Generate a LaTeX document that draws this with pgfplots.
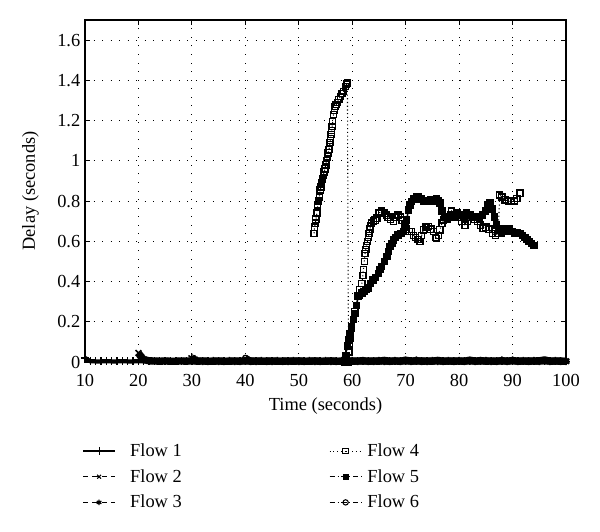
\documentclass[border=0pt]{standalone}
\usepackage{pgfplots}
\pgfplotsset{compat=1.18}
\usepackage{fontspec}
\setmainfont{Liberation Serif}
\begin{document}
\begin{tikzpicture}[font=\fontsize{13.8}{16.5}\selectfont]
\path[use as bounding box] (-63.75pt,-127.5pt) rectangle (386.25pt,271.5pt);
\begin{axis}[
  at={(0,0)}, anchor=south west,
  scale only axis, width=360.75pt, height=256.5pt,
  xmin=10, xmax=100, ymin=0, ymax=1.7,
  xtick={10,20,30,40,50,60,70,80,90,100},
  ytick={0,0.2,0.4,0.6,0.8,1,1.2,1.4,1.6},
  /pgf/number format/assume math mode=true,
  axis line style={black, line width=0.9pt},
  tick align=inside, major tick length=4pt,
  tick style={black, line width=0.7pt},
  grid=major,
  grid style={black, line width=0.6pt, dash pattern=on 0.6pt off 5.8pt},
  xticklabel style={yshift=-6pt},
  xlabel={Time (seconds)}, ylabel={Delay (seconds)},
  xlabel style={yshift=-1pt},
  ylabel shift=7pt,
  clip=false,
  legend columns=3, transpose legend,
  legend image code/.code={\draw[mark repeat=2,mark phase=2] plot coordinates {(0cm,0cm) (0.42cm,0cm) (0.84cm,0cm)};},
  legend style={draw=none, fill=none, at={(axis description cs:0,0)}, anchor=north west, xshift=-5pt, yshift=-57pt,
     row sep=4.2pt,
     /tikz/column 1/.append style={column sep=9pt},
     /tikz/column 2/.append style={column sep=108.5pt},
     /tikz/column 3/.append style={column sep=2pt}},
  legend cell align=left,
]
% Flow 1
\addplot[forget plot, black, line width=3.2pt, mark=+, mark size=3pt, mark options={line width=1pt}] coordinates {
(10,0.02)(11,0.004)(12,0.003)(13,0.003)(14,0.004)(15,0.003)(16,0.003)(17,0.004)(18,0.003)(19,0.003)
(20,0.004)(21,0.004)(22,0.003)(23,0.003)(24,0.004)(25,0.003)(26,0.003)(27,0.004)(28,0.003)(29,0.003)
(30,0.005)(31,0.004)(32,0.003)(33,0.003)(34,0.004)(35,0.003)(36,0.003)(37,0.004)(38,0.003)(39,0.003)
(40,0.005)(41,0.004)(42,0.003)(43,0.003)(44,0.004)(45,0.003)(46,0.003)(47,0.004)(48,0.003)(49,0.003)
(50,0.004)(51,0.003)(52,0.003)(53,0.004)(54,0.003)(55,0.003)(56,0.004)(57,0.003)(58,0.003)(59,0.004)
(60,0.004)(61,0.003)(62,0.005)(63,0.003)(64,0.004)(65,0.003)(66,0.006)(67,0.003)(68,0.004)(69,0.003)
(70,0.006)(71,0.003)(72,0.005)(73,0.003)(74,0.004)(75,0.003)(76,0.006)(77,0.003)(78,0.004)(79,0.003)
(80,0.004)(81,0.003)(82,0.007)(83,0.003)(84,0.006)(85,0.003)(86,0.004)(87,0.003)(88,0.005)(89,0.003)
(90,0.006)(91,0.003)(92,0.004)(93,0.003)(94,0.004)(95,0.003)(96,0.007)(97,0.003)(98,0.004)(99,0.003)(100,0.003)};
% Flow 2
\addplot[forget plot, black, line width=5.5pt, mark=x, mark size=3pt, mark options={line width=1.1pt}] coordinates {
(20,0.045)(20.5,0.025)(21,0.012)(22,0.006)(23,0.005)(24,0.004)(25,0.005)(26,0.004)(27,0.004)(28,0.005)(29,0.004)
(30,0.006)(31,0.004)(32,0.005)(33,0.004)(34,0.004)(35,0.005)(36,0.004)(37,0.004)(38,0.005)(39,0.004)
(40,0.006)(41,0.004)(42,0.005)(43,0.004)(44,0.004)(45,0.005)(46,0.004)(47,0.004)(48,0.005)(49,0.004)
(50,0.005)(51,0.004)(52,0.004)(53,0.005)(54,0.004)(55,0.004)(56,0.005)(57,0.004)(58,0.004)(59,0.005)
(60,0.004)(61,0.005)(62,0.006)(63,0.004)(64,0.005)(65,0.004)(66,0.008)(67,0.004)(68,0.005)(69,0.004)
(70,0.009)(71,0.004)(72,0.006)(73,0.004)(74,0.005)(75,0.004)(76,0.008)(77,0.004)(78,0.005)(79,0.004)
(80,0.005)(81,0.004)(82,0.009)(83,0.004)(84,0.007)(85,0.004)(86,0.005)(87,0.004)(88,0.006)(89,0.004)
(90,0.007)(91,0.004)(92,0.005)(93,0.004)(94,0.005)(95,0.006)(96,0.010)(97,0.004)(98,0.005)(99,0.004)(100,0.004)};
% Flow 3
\addplot[forget plot, black, line width=5pt, mark=asterisk, mark size=3pt, mark options={line width=1.1pt}] coordinates {
(30,0.022)(30.5,0.014)(31,0.006)(32,0.004)(33,0.004)(34,0.005)(35,0.004)(36,0.004)(37,0.005)(38,0.004)(39,0.004)
(40,0.005)(41,0.004)(42,0.004)(43,0.005)(44,0.004)(45,0.004)(46,0.005)(47,0.004)(48,0.004)(49,0.005)
(50,0.004)(51,0.004)(52,0.005)(53,0.004)(54,0.004)(55,0.005)(56,0.004)(57,0.004)(58,0.005)(59,0.004)
(60,0.005)(61,0.004)(62,0.005)(63,0.004)(64,0.004)(65,0.005)(66,0.004)(67,0.004)(68,0.005)(69,0.004)
(70,0.005)(71,0.004)(72,0.008)(73,0.004)(74,0.004)(75,0.005)(76,0.004)(77,0.004)(78,0.005)(79,0.004)
(80,0.005)(81,0.004)(82,0.005)(83,0.004)(84,0.006)(85,0.005)(86,0.004)(87,0.004)(88,0.008)(89,0.004)
(90,0.008)(91,0.004)(92,0.005)(93,0.004)(94,0.005)(95,0.004)(96,0.006)(97,0.004)(98,0.005)(99,0.004)(100,0.004)};
% Flow 6
\addplot[forget plot, black, line width=5pt, mark=o, mark size=2pt, mark options={line width=1pt}] coordinates {
(40,0.02)(40.5,0.012)(41,0.005)(42,0.004)(43,0.004)(44,0.005)(45,0.004)(46,0.004)(47,0.005)(48,0.004)(49,0.004)
(50,0.005)(51,0.004)(52,0.004)(53,0.005)(54,0.004)(55,0.004)(56,0.005)(57,0.004)(58,0.004)(59,0.005)
(60,0.004)(61,0.004)(62,0.005)(63,0.004)(64,0.004)(65,0.005)(66,0.004)(67,0.004)(68,0.005)(69,0.004)
(70,0.005)(71,0.004)(72,0.004)(73,0.005)(74,0.004)(75,0.004)(76,0.007)(77,0.004)(78,0.004)(79,0.005)
(80,0.004)(81,0.004)(82,0.005)(83,0.004)(84,0.004)(85,0.005)(86,0.004)(87,0.004)(88,0.005)(89,0.004)
(90,0.005)(91,0.004)(92,0.004)(93,0.005)(94,0.004)(95,0.004)(96,0.005)(97,0.004)(98,0.004)(99,0.005)(100,0.004)};
% Flow 4
\addplot[forget plot, black, line width=0.8pt, dash pattern=on 0.8pt off 2pt, mark=square, mark size=2.3pt, mark options={solid, line width=1pt}] coordinates {
(52.85,0.64)(52.95,0.67)(53.1,0.69)(53.2,0.71)(53.4,0.74)(53.55,0.78)(53.7,0.80)(53.85,0.82)(54.0,0.855)(54.15,0.87)(54.3,0.89)
(54.45,0.91)(54.6,0.93)(54.75,0.945)(54.9,0.96)(55.05,0.98)(55.2,1.0)(55.35,1.02)(55.5,1.04)(55.65,1.055)(55.75,1.07)
(55.85,1.09)(55.95,1.11)(56.05,1.13)(56.15,1.15)(56.25,1.17)(56.35,1.195)(56.5,1.23)(56.65,1.25)(56.8,1.27)(57.0,1.28)
(57.2,1.29)(57.5,1.305)(57.8,1.32)(58.1,1.335)(58.4,1.345)(58.7,1.37)(58.9,1.38)(59.0,1.385)(59.1,1.39)
(59.3,0.0)(59.4,0.05)(59.5,0.09)(59.6,0.12)(59.9,0.17)(60.2,0.21)(60.5,0.25)(60.8,0.28)(61.1,0.33)(61.4,0.36)(61.8,0.39)
(62.0,0.43)(62.1,0.46)(62.25,0.50)(62.4,0.54)(62.55,0.56)(62.7,0.58)(62.85,0.60)(63.0,0.62)(63.15,0.64)(63.3,0.66)(63.45,0.675)(63.6,0.69)
(64.0,0.70)(64.3,0.705)(64.6,0.715)(65.0,0.74)(65.5,0.75)(66.0,0.74)(66.4,0.73)(66.7,0.72)(67.2,0.71)(67.7,0.70)(68.2,0.72)(68.6,0.73)
(69.0,0.72)(69.3,0.705)(69.8,0.68)(70.2,0.66)(70.7,0.65)(71.1,0.648)(71.5,0.63)(71.8,0.62)(72.3,0.61)(72.7,0.60)(73.0,0.63)
(73.3,0.657)(73.8,0.67)(74.2,0.673)(74.7,0.66)(75.2,0.648)(75.6,0.62)(75.8,0.615)(76.1,0.63)(76.4,0.657)(76.8,0.69)(77.1,0.706)
(77.6,0.72)(78.3,0.723)(78.6,0.75)(79.2,0.73)(79.9,0.72)(80.5,0.70)(81.1,0.68)(81.6,0.70)(82.2,0.72)(82.8,0.71)(83.5,0.70)
(84.0,0.68)(84.5,0.665)(85.0,0.67)(85.6,0.66)(86.2,0.64)(86.8,0.63)(87.3,0.64)(87.6,0.83)(88.0,0.82)(88.6,0.806)(89.2,0.80)
(89.8,0.797)(90.3,0.80)(90.8,0.814)(91.4,0.839)};
% Flow 5
\addplot[forget plot, black, line width=1.2pt, dash pattern=on 4pt off 2pt on 0.8pt off 2pt, mark=square*, mark size=2.2pt, mark options={solid}] coordinates {
(58.6,0.0)(58.8,0.03)(59.1,0.08)(59.3,0.11)(59.6,0.14)(59.9,0.175)(60.2,0.21)(60.5,0.24)(60.8,0.28)(61.1,0.325)(61.4,0.33)
(61.8,0.342)(62.2,0.35)(62.6,0.36)(63.0,0.367)(63.4,0.39)(63.9,0.408)(64.4,0.42)(64.9,0.44)(65.2,0.46)(65.5,0.474)(66.0,0.50)
(66.5,0.524)(66.8,0.55)(67.1,0.574)(67.4,0.59)(67.7,0.607)(68.1,0.62)(68.6,0.632)(69.1,0.64)(69.6,0.648)(69.9,0.67)(70.2,0.706)
(70.5,0.756)(70.8,0.78)(71.1,0.797)(71.5,0.81)(72.0,0.82)(72.4,0.822)(72.9,0.81)(73.3,0.797)(73.9,0.80)(74.6,0.806)(75.2,0.80)
(75.8,0.814)(76.1,0.80)(76.4,0.79)(76.8,0.75)(77.3,0.72)(77.8,0.71)(78.4,0.73)(79.0,0.72)(79.6,0.74)(80.2,0.73)(80.8,0.72)
(81.4,0.74)(82.0,0.73)(82.6,0.72)(83.2,0.72)(83.8,0.71)(84.4,0.73)(84.9,0.75)(85.4,0.78)(85.8,0.79)(86.2,0.76)(86.6,0.72)
(87.0,0.68)(87.4,0.655)(87.9,0.64)(88.4,0.66)(88.9,0.65)(89.4,0.66)(89.9,0.65)(90.4,0.64)(90.9,0.645)(91.4,0.64)(91.9,0.63)
(92.3,0.62)(92.7,0.61)(93.1,0.60)(93.5,0.59)(94.0,0.58)};
% legend
\addlegendimage{black, line width=0.8pt, mark=+, mark size=3pt}
\addlegendentry{Flow 1}
\addlegendimage{black, line width=0.8pt, dash pattern=on 4pt off 3pt, mark=x, mark size=2pt, mark options={solid}}
\addlegendentry{Flow 2}
\addlegendimage{black, line width=0.8pt, dash pattern=on 4pt off 3pt, mark=asterisk, mark size=2pt, mark options={solid, line width=1pt}}
\addlegendentry{Flow 3}
\addlegendimage{black, line width=0.6pt, dash pattern=on 0.8pt off 2pt, mark=square, mark size=2pt, mark options={solid, line width=0.8pt}}
\addlegendentry{Flow 4}
\addlegendimage{black, line width=0.8pt, dash pattern=on 4pt off 2pt on 0.8pt off 2pt, mark=square*, mark size=1.8pt, mark options={solid}}
\addlegendentry{Flow 5}
\addlegendimage{black, line width=0.8pt, dash pattern=on 4pt off 2pt on 0.8pt off 2pt, mark=o, mark size=2pt, mark options={solid}}
\addlegendentry{Flow 6}
\end{axis}
\end{tikzpicture}
\end{document}
